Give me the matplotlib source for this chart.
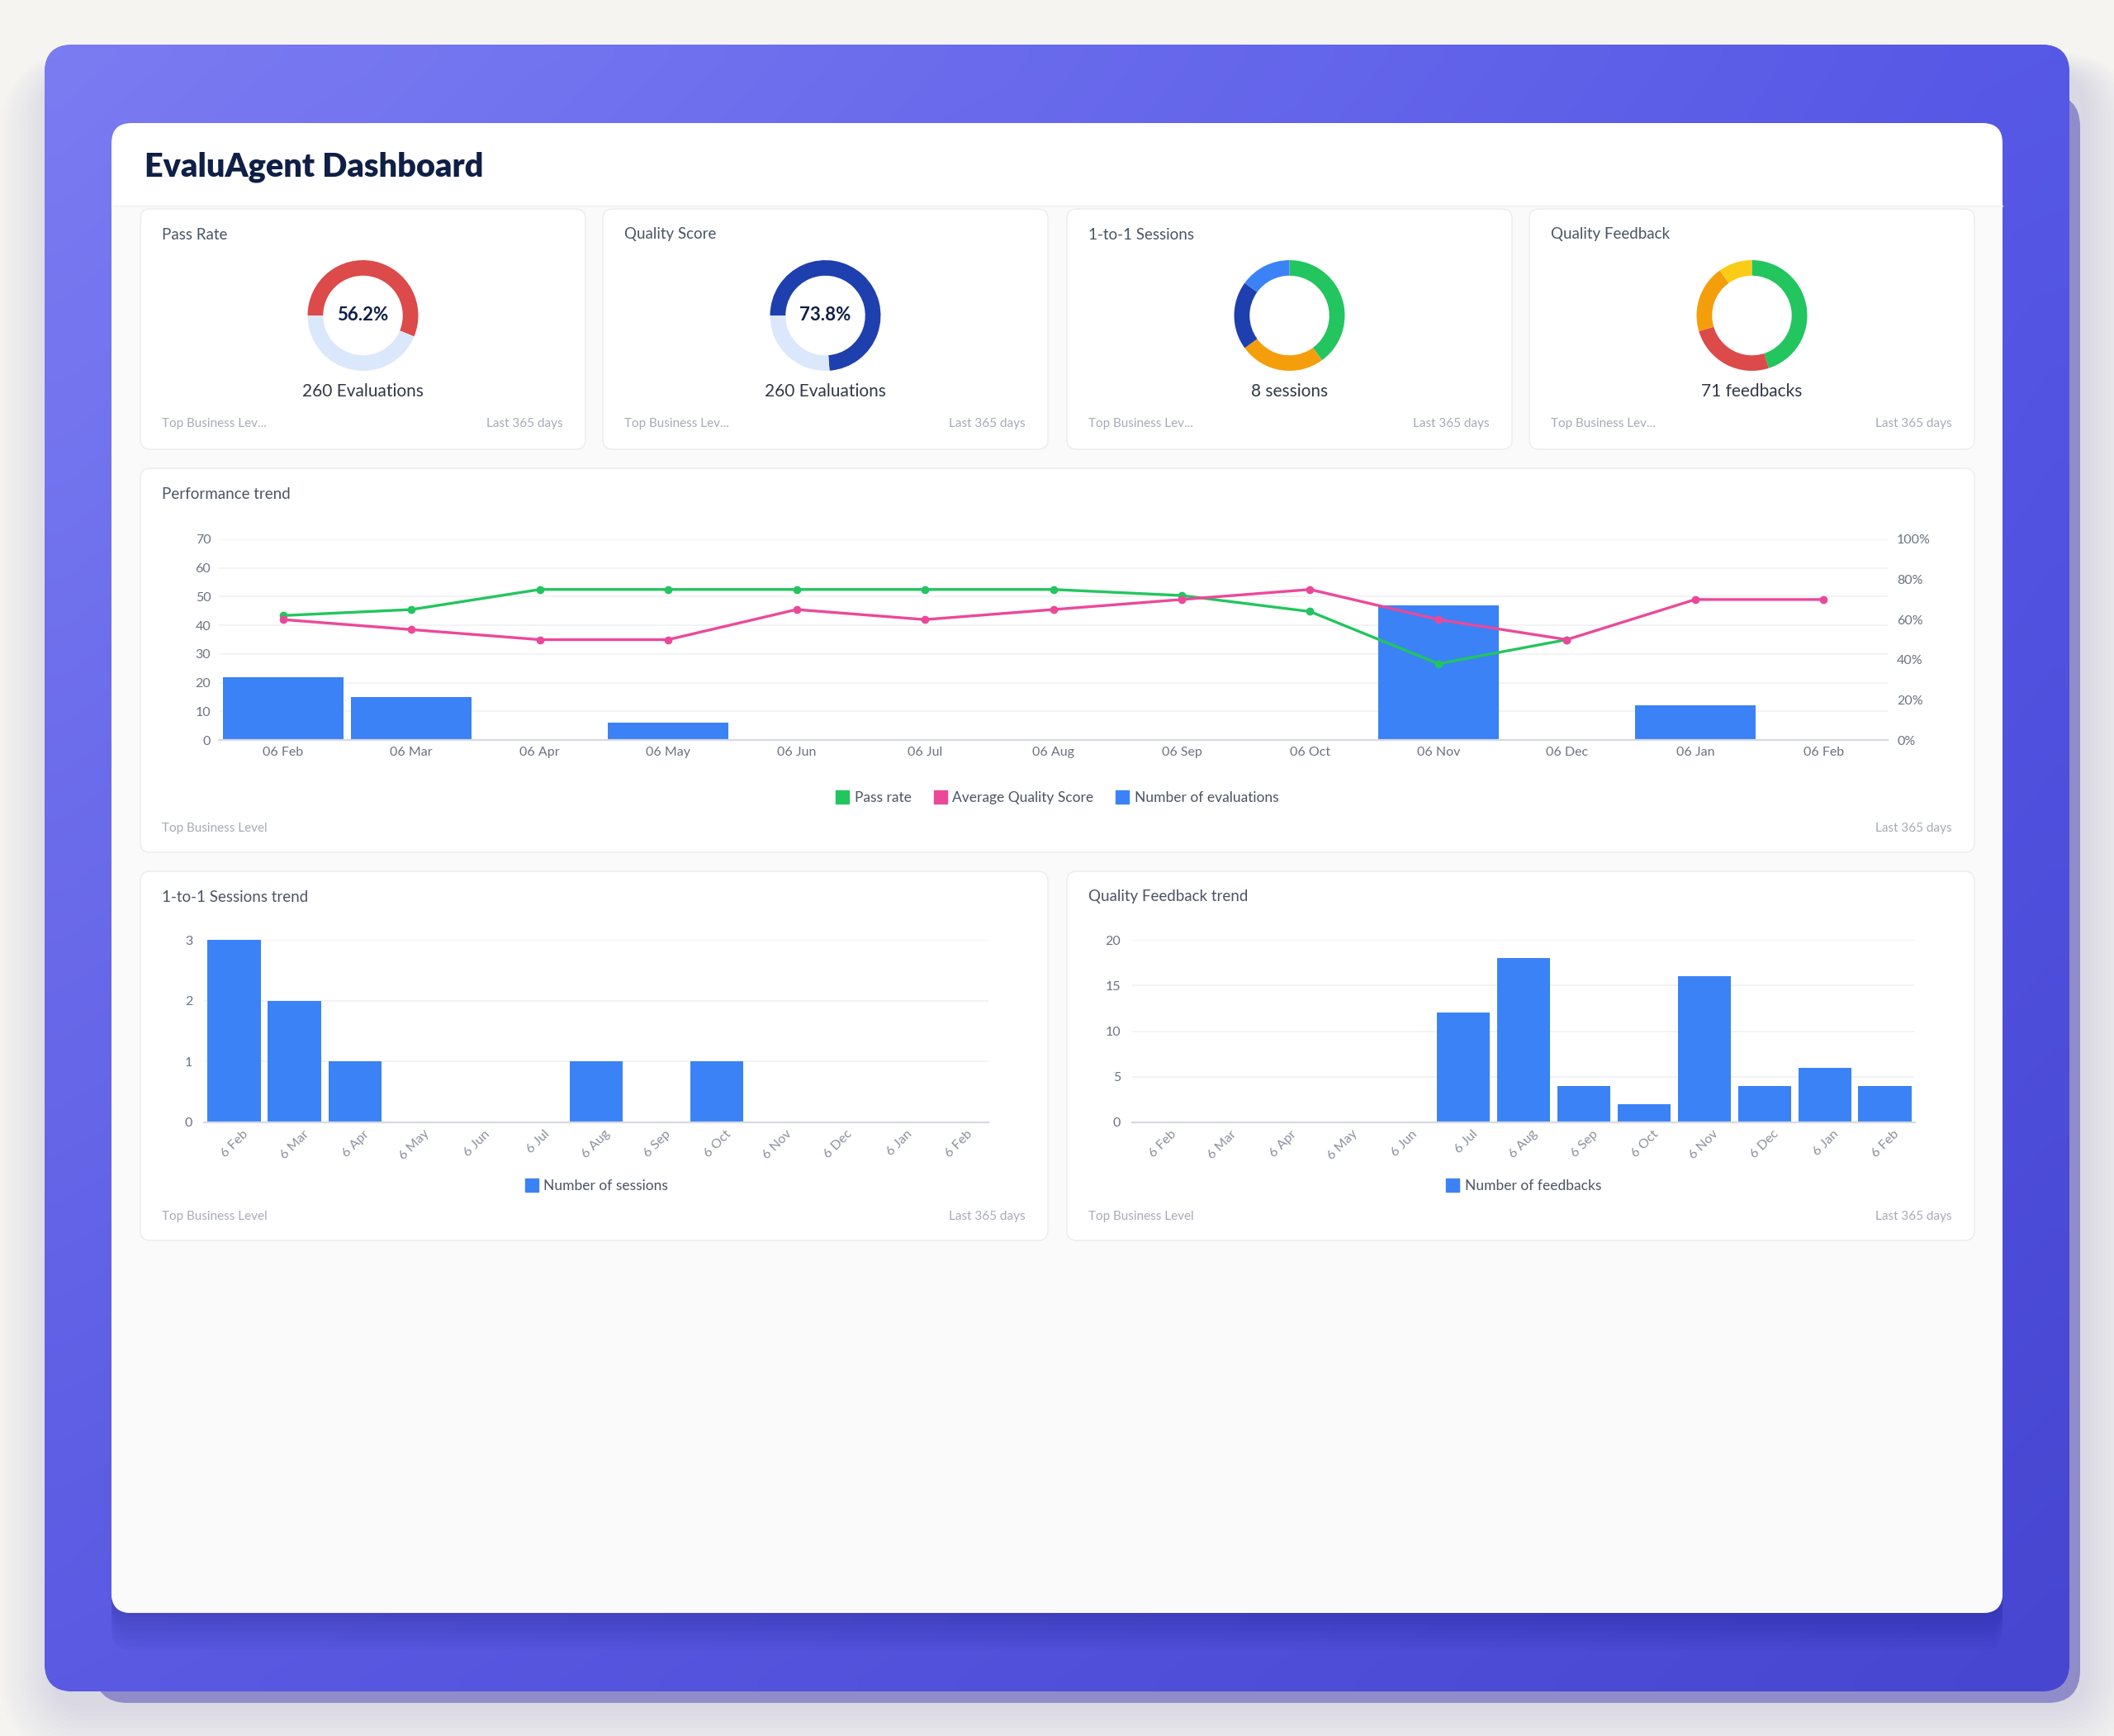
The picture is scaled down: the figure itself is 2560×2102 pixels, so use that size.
import numpy as np
import matplotlib
matplotlib.use("Agg")
import matplotlib.pyplot as plt
import matplotlib.transforms as mtransforms
from matplotlib.patches import FancyBboxPatch, Rectangle
from matplotlib.lines import Line2D
from matplotlib.colors import to_rgb

# ─── Data ────────────────────────────────────────────────────────────────────
perf_months = ["06 Feb", "06 Mar", "06 Apr", "06 May", "06 Jun", "06 Jul", "06 Aug",
               "06 Sep", "06 Oct", "06 Nov", "06 Dec", "06 Jan", "06 Feb"]
evaluations = [22, 15, 0, 6, 0, 0, 0, 0, 0, 47, 0, 12, 0]
pass_rate = [62, 65, 75, 75, 75, 75, 75, 72, 64, 38, 50, np.nan, np.nan]
avg_quality = [60, 55, 50, 50, 65, 60, 65, 70, 75, 60, 50, 70, 70]

trend_months = ["6 Feb", "6 Mar", "6 Apr", "6 May", "6 Jun", "6 Jul", "6 Aug",
                "6 Sep", "6 Oct", "6 Nov", "6 Dec", "6 Jan", "6 Feb"]
sessions = [3, 2, 1, 0, 0, 0, 1, 0, 1, 0, 0, 0, 0]
feedbacks = [0, 0, 0, 0, 0, 12, 18, 4, 2, 16, 4, 6, 4]

pass_rate_total = 56.2
quality_score_total = 73.8
session_split = [40, 25, 20, 15]
feedback_split = [32, 18, 14, 7]

# ─── Style ───────────────────────────────────────────────────────────────────
GREEN = "#22c55e"
PINK = "#ec4899"
BLUE = "#3b82f6"
DARK_BLUE = "#1e3fae"
RED = "#dc4a4a"
ORANGE = "#f59e0b"
YELLOW = "#facc15"
LIGHT = "#dbe8fc"
NAVY = "#0f1f45"
TXT = "#4b5563"
TICK = "#6b7280"
FOOT = "#a7abb5"

plt.rcParams["font.family"] = ["Lato", "DejaVu Sans"]

W, H = 2560, 2102
fig = plt.figure(figsize=(W / 100, H / 100), dpi=100)
fig.patch.set_facecolor("#f5f4f1")


def frac(x0, y0, x1, y1):
    return [x0 / W, 1 - y1 / H, (x1 - x0) / W, (y1 - y0) / H]


bg = fig.add_axes([0, 0, 1, 1])
bg.set_xlim(0, W)
bg.set_ylim(H, 0)
bg.axis("off")


def rbox(x0, y0, x1, y1, r, **kw):
    p = FancyBboxPatch((x0, y0), x1 - x0, y1 - y0,
                       boxstyle=f"round,pad=0,rounding_size={r}", **kw)
    bg.add_patch(p)
    return p


# soft halo around the frame
for i in range(14):
    g = 6 + i * 5
    rbox(70 - g, 90 - g * 0.4, 2520 + g, 2062 + g, 40 + g,
         fc="#6d68d6", ec="none", alpha=0.012)

# back card + frame
rbox(115, 114, 2519, 2062, 40, fc="#8f8cc9", ec="none")
frame = rbox(54, 54, 2506, 2048, 34, fc="#6061e6", ec="none")

tl, tr, bl, br = [np.array(to_rgb(c)) for c in ("#7b7cf2", "#5658e6", "#5a5ae3", "#4646d1")]
u = np.linspace(0, 1, 64)
U, V = np.meshgrid(u, u)
grad = (tl * ((1 - U) * (1 - V))[..., None] + tr * (U * (1 - V))[..., None]
        + bl * ((1 - U) * V)[..., None] + br * (U * V)[..., None])
im = bg.imshow(grad, extent=(54, 2506, 2048, 54), interpolation="bilinear",
               aspect="auto", zorder=1)
im.set_clip_path(frame)

# shadow under the white panel
for i in range(10):
    rbox(135, 149, 2425, 1953 + i * 5, 24, fc="#20208a", ec="none",
         alpha=0.035, zorder=1.5)

panel = rbox(135, 149, 2425, 1953, 24, fc="white", ec="none", zorder=2)
body = Rectangle((135, 249), 2290, 1704, fc="#fafafa", ec="none", zorder=2.1)
bg.add_patch(body)
body.set_clip_path(panel)
bg.plot([135, 2425], [249, 249], color="#f0f0f0", lw=1, zorder=2.2)

bg.text(175, 202, "EvaluAgent Dashboard", fontsize=28.5, fontweight="heavy",
        color=NAVY, va="center", ha="left", zorder=3)


def card(x0, y0, x1, y1, title, left_foot, right_foot, foot_y):
    rbox(x0, y0, x1, y1, 12, fc="white", ec="#ececef", lw=1, zorder=2.5)
    bg.text(x0 + 26, y0 + 31, title, fontsize=13.5, color=TXT,
            va="center", ha="left", zorder=3)
    bg.text(x0 + 26, foot_y, left_foot, fontsize=11, color=FOOT,
            va="center", ha="left", zorder=3)
    bg.text(x1 - 27, foot_y, right_foot, fontsize=11, color=FOOT,
            va="center", ha="right", zorder=3)


# ─── Donut cards ─────────────────────────────────────────────────────────────
cards = [
    (170, 709, "Pass Rate", "260 Evaluations", [pass_rate_total, 100 - pass_rate_total],
     [RED, LIGHT], 180, f"{pass_rate_total}%"),
    (730, 1269, "Quality Score", "260 Evaluations", [quality_score_total, 100 - quality_score_total],
     [DARK_BLUE, LIGHT], 180, f"{quality_score_total}%"),
    (1292, 1831, "1-to-1 Sessions", "8 sessions", session_split,
     [GREEN, ORANGE, DARK_BLUE, BLUE], 90, None),
    (1852, 2391, "Quality Feedback", "71 feedbacks", feedback_split,
     [GREEN, RED, ORANGE, YELLOW], 90, None),
]

for x0, x1, title, sub, vals, cols, start, center in cards:
    card(x0, 253, x1, 544, title, "Top Business Lev...", "Last 365 days", 513)
    cx, cy = (x0 + x1) / 2, 382
    dax = fig.add_axes(frac(cx - 70, cy - 70, cx + 70, cy + 70))
    dax.pie(vals, colors=cols, startangle=start, counterclock=False, radius=1,
            wedgeprops=dict(width=0.28, edgecolor="none"))
    dax.set_xlim(-1.045, 1.045)
    dax.set_ylim(-1.045, 1.045)
    dax.set_aspect("equal")
    dax.axis("off")
    if center:
        dax.text(0, 0, center, fontsize=16, fontweight="bold", color=NAVY,
                 ha="center", va="center")
    bg.text(cx, 474, sub, fontsize=15, color="#333846", ha="center",
            va="center", zorder=3)


def style_axis(ax):
    for s in ("top", "right", "left"):
        ax.spines[s].set_visible(False)
    ax.spines["bottom"].set_color("#d7dae0")
    ax.spines["bottom"].set_linewidth(1.6)
    ax.grid(axis="y", color="#eff0f3", lw=1.1)
    ax.set_axisbelow(True)
    ax.set_facecolor("none")
    ax.tick_params(length=0, labelsize=11.5, colors=TICK)


# ─── Performance trend ───────────────────────────────────────────────────────
card(170, 567, 2391, 1032, "Performance trend", "Top Business Level", "Last 365 days", 1003)
x = np.arange(len(perf_months))
ax = fig.add_axes(frac(265, 653, 2286, 896))
ax.bar(x, evaluations, width=0.94, color=BLUE, zorder=2)
ax.set_xlim(-0.5, len(x) - 0.5)
ax.set_ylim(0, 70)
ax.set_yticks(range(0, 71, 10))
ax.set_xticks(x)
ax.set_xticklabels(perf_months)
style_axis(ax)
ax.tick_params(axis="y", pad=7)
ax.tick_params(axis="x", pad=6)

ax2 = ax.twinx()
ax2.plot(x, pass_rate, color=GREEN, lw=2.4, marker="o", ms=6, zorder=3)
ax2.plot(x, avg_quality, color=PINK, lw=2.4, marker="o", ms=6, zorder=4)
ax2.set_ylim(0, 100)
ax2.set_yticks(range(0, 101, 20))
ax2.set_yticklabels([f"{v}%" for v in range(0, 101, 20)])
for s in ax2.spines.values():
    s.set_visible(False)
ax2.tick_params(length=0, labelsize=11.5, colors=TICK, pad=8)

handles = [Line2D([], [], marker="s", ls="", color=c, ms=11) for c in (GREEN, PINK, BLUE)]
fig.legend(handles, ["Pass rate", "Average Quality Score", "Number of evaluations"],
           loc="center", bbox_to_anchor=(1280 / W, 1 - 966 / H), ncol=3, frameon=False,
           fontsize=12.5, labelcolor=TXT, handletextpad=0.35, columnspacing=1.5,
           handlelength=1.0)


# ─── Bottom trend cards ──────────────────────────────────────────────────────
def trend(x0, x1, ax_x0, ax_x1, title, values, ymax, ystep, label):
    card(x0, 1055, x1, 1502, title, "Top Business Level", "Last 365 days", 1473)
    xs = np.arange(len(trend_months))
    a = fig.add_axes(frac(ax_x0, 1138, ax_x1, 1359))
    a.bar(xs, values, width=0.88, color=BLUE, zorder=2)
    a.set_xlim(-0.5, len(xs) - 0.5)
    a.set_ylim(0, ymax)
    a.set_yticks(np.arange(0, ymax + 0.1, ystep))
    a.set_xticks(xs)
    a.set_xticklabels(trend_months, rotation=45, ha="right", rotation_mode="anchor")
    style_axis(a)
    a.tick_params(axis="y", pad=10)
    a.tick_params(axis="x", pad=5, colors="#8b909b")
    off = mtransforms.ScaledTranslation(0.1, 0, fig.dpi_scale_trans)
    for t in a.get_xticklabels():
        t.set_transform(t.get_transform() + off)
    h = [Line2D([], [], marker="s", ls="", color=BLUE, ms=11)]
    fig.legend(h, [label], loc="center",
               bbox_to_anchor=(((ax_x0 + ax_x1) / 2) / W, 1 - 1436 / H),
               frameon=False, fontsize=12.5, labelcolor=TXT, handletextpad=0.35,
               handlelength=1.0)


trend(170, 1269, 247, 1197, "1-to-1 Sessions trend", sessions, 3, 1, "Number of sessions")
trend(1292, 2391, 1371, 2319, "Quality Feedback trend", feedbacks, 20, 5, "Number of feedbacks")

fig.savefig("out.png", dpi=100, facecolor=fig.get_facecolor())
